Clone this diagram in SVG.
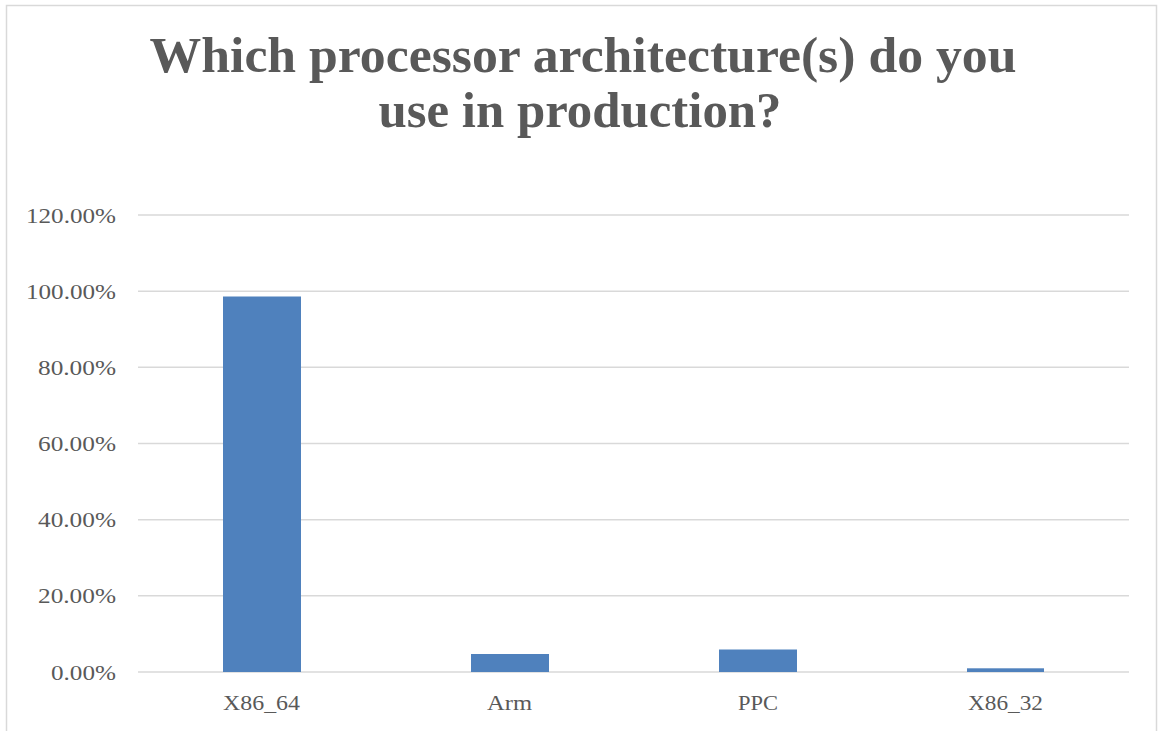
<svg xmlns="http://www.w3.org/2000/svg" width="1158" height="731" viewBox="0 0 1158 731">
<style>
.title{font-family:"Liberation Serif","DejaVu Serif",serif;font-weight:bold;font-size:50px;fill:#595959;text-anchor:middle}
.ax{font-family:"Liberation Serif","DejaVu Serif",serif;font-size:22px;fill:#595959;text-anchor:end}
.cat{font-family:"Liberation Serif","DejaVu Serif",serif;font-size:22px;fill:#595959;text-anchor:middle}
.grid{stroke:#d9d9d9;stroke-width:1.5}
.bar{fill:#4f81bd}
</style>
<rect x="0" y="0" width="1158" height="731" fill="#ffffff"/>
<rect x="6.5" y="5.5" width="1150" height="740" fill="none" stroke="#d9d9d9" stroke-width="1.5"/>
<g id="title">
<text class="title" x="583" y="72" textLength="867" lengthAdjust="spacingAndGlyphs">Which processor architecture(s) do you</text>
<text class="title" x="580" y="127" textLength="403" lengthAdjust="spacingAndGlyphs">use in production?</text>
</g>
<g id="gridlines">
<line class="grid" x1="138" y1="215" x2="1129" y2="215"/>
<line class="grid" x1="138" y1="291.2" x2="1129" y2="291.2"/>
<line class="grid" x1="138" y1="367.3" x2="1129" y2="367.3"/>
<line class="grid" x1="138" y1="443.5" x2="1129" y2="443.5"/>
<line class="grid" x1="138" y1="519.7" x2="1129" y2="519.7"/>
<line class="grid" x1="138" y1="595.8" x2="1129" y2="595.8"/>
<line class="grid" x1="138" y1="672" x2="1129" y2="672"/>
</g>
<g id="y-axis">
<text class="ax" x="116" y="222.5" textLength="90" lengthAdjust="spacingAndGlyphs">120.00%</text>
<text class="ax" x="116" y="298.7" textLength="90" lengthAdjust="spacingAndGlyphs">100.00%</text>
<text class="ax" x="116" y="374.8" textLength="78" lengthAdjust="spacingAndGlyphs">80.00%</text>
<text class="ax" x="116" y="451" textLength="78" lengthAdjust="spacingAndGlyphs">60.00%</text>
<text class="ax" x="116" y="527.2" textLength="78" lengthAdjust="spacingAndGlyphs">40.00%</text>
<text class="ax" x="116" y="603.3" textLength="78" lengthAdjust="spacingAndGlyphs">20.00%</text>
<text class="ax" x="116" y="679.5" textLength="65" lengthAdjust="spacingAndGlyphs">0.00%</text>
</g>
<g id="bar-x86_64"><rect class="bar" x="223" y="296.5" width="78" height="375.5"/></g>
<g id="bar-arm"><rect class="bar" x="471" y="654" width="78" height="18"/></g>
<g id="bar-ppc"><rect class="bar" x="719" y="649.5" width="78" height="22.5"/></g>
<g id="bar-x86_32"><rect class="bar" x="967" y="668.3" width="77" height="3.7"/></g>
<g id="x-axis">
<text class="cat" x="261.5" y="710" textLength="77" lengthAdjust="spacingAndGlyphs">X86_64</text>
<text class="cat" x="509.5" y="710" textLength="45" lengthAdjust="spacingAndGlyphs">Arm</text>
<text class="cat" x="758" y="710" textLength="40" lengthAdjust="spacingAndGlyphs">PPC</text>
<text class="cat" x="1005.5" y="710" textLength="75" lengthAdjust="spacingAndGlyphs">X86_32</text>
</g>
</svg>
